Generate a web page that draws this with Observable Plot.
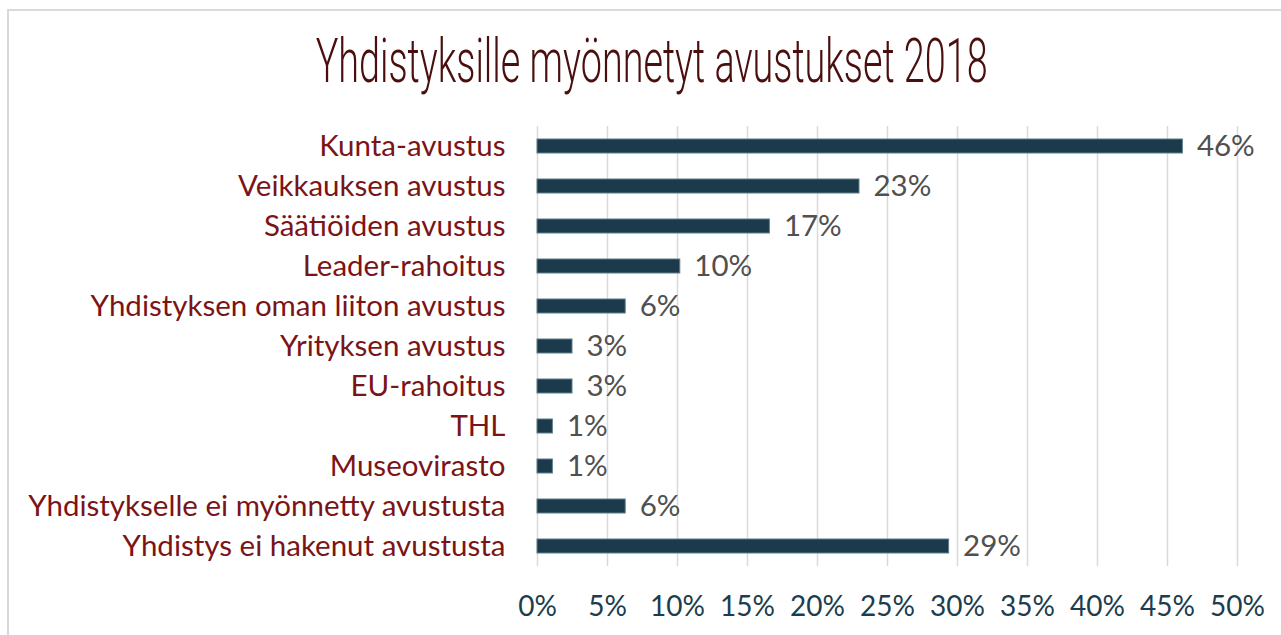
<!DOCTYPE html>
<html>
<head>
<meta charset="utf-8">
<script src="https://cdn.jsdelivr.net/npm/d3@7"></script>
<script src="https://cdn.jsdelivr.net/npm/@observablehq/plot@0.6"></script>
<style>
  html, body { margin: 0; padding: 0; background: #fff; }
  #wrap { position: relative; width: 1281px; height: 635px; overflow: hidden; background: #fff; }
  #frame { position: absolute; left: 7px; top: 9px; width: 1300px; height: 700px; border-top: 2px solid #d9d9d9; border-left: 2px solid #d9d9d9; box-sizing: border-box; }
  #title { position: absolute; left: 0; top: 30px; width: 1304px; text-align: center; white-space: nowrap; }
  #title span { display: inline-block; font-family: Roboto, "Liberation Sans Narrow", sans-serif; font-weight: 300; font-size: 62px; color: #4a0e0e; transform-origin: center; line-height: 1; }
  #chart { position: absolute; left: 0; top: 110px; }
</style>
</head>
<body>
<div id="wrap">
  <div id="frame"></div>
  <div id="title"><span id="ttext">Yhdistyksille myönnetyt avustukset 2018</span></div>
  <div id="chart"></div>
</div>
<script>
const categories = [
  "Kunta-avustus",
  "Veikkauksen avustus",
  "Säätiöiden avustus",
  "Leader-rahoitus",
  "Yhdistyksen oman liiton avustus",
  "Yrityksen avustus",
  "EU-rahoitus",
  "THL",
  "Museovirasto",
  "Yhdistykselle ei myönnetty avustusta",
  "Yhdistys ei hakenut avustusta"
];
const values = [46.1, 23.0, 16.6, 10.2, 6.3, 2.5, 2.5, 1.1, 1.1, 6.3, 29.4];
const valueLabels = ["46%", "23%", "17%", "10%", "6%", "3%", "3%", "1%", "1%", "6%", "29%"];
const tickValues = [0, 5, 10, 15, 20, 25, 30, 35, 40, 45, 50];

const data = categories.map((c, i) => ({cat: c, value: values[i], label: valueLabels[i]}));
const fmt = d => d + "%";

const plot = Plot.plot({
  width: 1281,
  height: 525,
  marginLeft: 537,
  marginRight: 44,
  marginTop: 16,
  marginBottom: 69,
  style: {fontFamily: "Lato, 'Open Sans', sans-serif", fontSize: "29px", background: "transparent"},
  x: {domain: [0, 50], ticks: tickValues, tickFormat: fmt, label: null},
  y: {domain: categories, paddingInner: 0.65, paddingOuter: 0.325, label: null},
  marks: [
    Plot.gridX(tickValues, {stroke: "#d9d9d9", strokeOpacity: 1, strokeWidth: 1.5}),
    Plot.barX(data, {x: "value", y: "cat", fill: "#1b3a4b", stroke: "#5f7f8c", strokeWidth: 1}),
    Plot.text(data, {x: "value", y: "cat", text: "label", dx: 14, textAnchor: "start", fill: "#505050", fontSize: 29.5}),
    Plot.axisX({ticks: tickValues, tickFormat: fmt, tickSize: 0, tickPadding: 30, color: "#1b3d4f", fontSize: 28, label: null}),
    Plot.axisY({tickSize: 0, tickPadding: 32, color: "#7b1416", fontSize: 29.5, label: null})
  ]
});
document.getElementById("chart").appendChild(plot);

const t = document.getElementById("ttext");
const w = t.getBoundingClientRect().width;
t.style.transform = "scaleX(" + (672 / w) + ")";
</script>
</body>
</html>
